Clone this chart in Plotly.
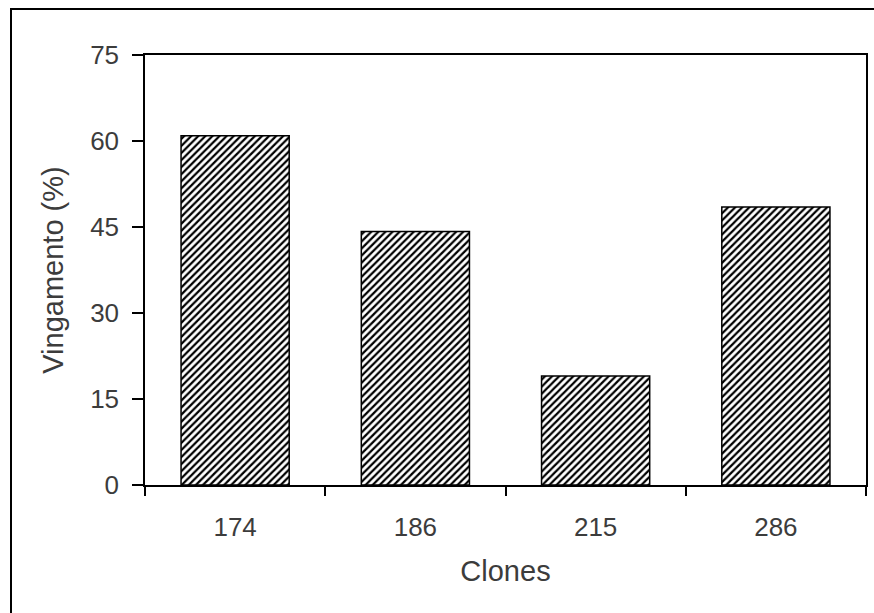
import plotly.graph_objects as go

clones = ["174", "186", "215", "286"]
vingamento = [60.9, 44.2, 19.0, 48.5]
y_ticks = [0, 15, 30, 45, 60, 75]

FONT = "Liberation Sans, Arial, sans-serif"
TXT = "#3c3c3c"

fig = go.Figure()
fig.add_trace(go.Bar(
    x=clones,
    y=vingamento,
    width=0.6,
    marker=dict(
        color="white",
        line=dict(color="black", width=1.5),
        pattern=dict(shape="/", fgcolor="black", bgcolor="white",
                     size=5, solidity=0.45, fillmode="replace"),
    ),
))

L, R, T, B = 145, 866, 55, 485
W, H = 874, 613
pw, ph = R - L, B - T

fig.update_layout(
    width=W, height=H,
    margin=dict(l=L, r=W - R, t=T, b=H - B, autoexpand=False),
    paper_bgcolor="white",
    plot_bgcolor="white",
    showlegend=False,
    font=dict(family=FONT, color=TXT, size=26),
    xaxis=dict(
        type="category",
        range=[-0.5, 3.5],
        tickson="boundaries",
        ticks="outside", ticklen=9, tickwidth=1.5, tickcolor="black",
        showline=True, linecolor="black", linewidth=1.5, mirror=True,
        showgrid=False, zeroline=False,
        tickfont=dict(size=26, color=TXT),
        ticklabelstandoff=18,
        title=dict(text="Clones", font=dict(size=29, color=TXT), standoff=20),
        automargin=False,
    ),
    yaxis=dict(
        range=[0, 75],
        tickvals=y_ticks,
        ticks="outside", ticklen=11, tickwidth=1.5, tickcolor="black",
        showline=True, linecolor="black", linewidth=1.5, mirror=True,
        showgrid=False, zeroline=False,
        tickfont=dict(size=26, color=TXT),
        ticklabelstandoff=8,
        title=dict(text="Vingamento (%)", font=dict(size=29, color=TXT), standoff=18),
        automargin=False,
    ),
    shapes=[dict(
        type="rect", xref="paper", yref="paper",
        x0=(11 - L) / pw, x1=(W + 10 - L) / pw,
        y0=(B - (H + 10)) / ph, y1=(B - 9) / ph,
        line=dict(color="black", width=2), fillcolor="rgba(0,0,0,0)",
        layer="below",
    )],
)

fig.write_html("out.html",
               config={"displayModeBar": False},
               post_script="document.body.style.margin='0';document.body.style.overflow='hidden';")
